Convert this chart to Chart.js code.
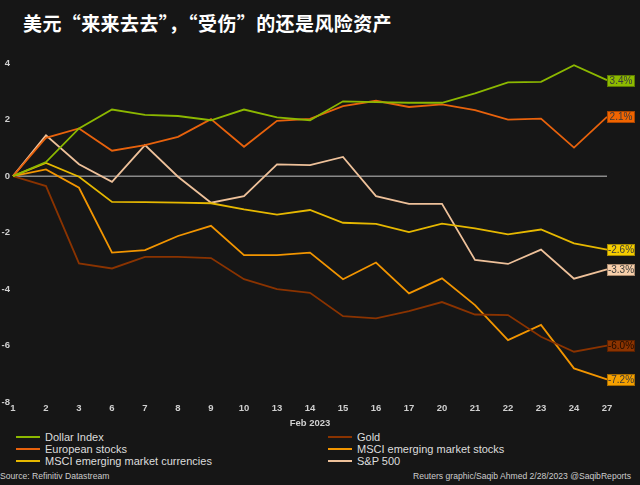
<!DOCTYPE html>
<html>
<head>
<meta charset="utf-8">
<script src="https://cdn.jsdelivr.net/npm/chart.js@4"></script>
<style>
  body { margin: 0; background: #161616; }
  #wrap { position: relative; width: 640px; height: 485px; background: #161616; overflow: hidden; }
  #title { position: absolute; left: 23px; top: 9px; color: #fff; font: bold 19px "Noto Sans CJK SC", sans-serif; letter-spacing: 0.4px; white-space: nowrap; }
  #chart-box { position: absolute; left: 0; top: 0; width: 640px; height: 430px; }
  .leg { position: absolute; height: 12px; display: flex; align-items: center; color: #ddd; font: 11px "Liberation Sans", Arial, sans-serif; white-space: nowrap; }
  .leg span.line { display: inline-block; width: 24px; height: 2px; margin-right: 5px; }
  .src { position: absolute; top: 471px; color: #ccc; font: 8.6px "Liberation Sans", Arial, sans-serif; white-space: nowrap; }
</style>
</head>
<body>
<div id="wrap">
  <div id="title">美元“来来去去”，“受伤”的还是风险资产</div>
  <div id="chart-box"><canvas id="chart" width="640" height="430"></canvas></div>
  <div id="legend"></div>
  <div class="src" style="left:0">Source: Refinitiv Datastream</div>
  <div class="src" style="right:9px">Reuters graphic/Saqib Ahmed 2/28/2023 @SaqibReports</div>
</div>
<script>
/* Donnees : variation en % depuis le 1er fevrier 2023 */
const dates = ['1', '2', '3', '6', '7', '8', '9', '10', '13', '14', '15', '16', '17', '20', '21', '22', '23', '24', '27'];
const seriesNames = ['Dollar Index', 'European stocks', 'MSCI emerging market currencies', 'Gold', 'MSCI emerging market stocks', 'S&P 500'];

const dollarIndex = [0, 0.5, 1.69, 2.36, 2.17, 2.13, 1.98, 2.36, 2.08, 1.98, 2.65, 2.62, 2.6, 2.6, 2.93, 3.32, 3.34, 3.93, 3.4];
const europeanStocks = [0, 1.36, 1.69, 0.9, 1.1, 1.39, 2.02, 1.04, 1.96, 2.03, 2.48, 2.67, 2.45, 2.54, 2.34, 2.0, 2.04, 1.01, 2.1];
const emCurrencies = [0, 0.47, -0.02, -0.91, -0.92, -0.94, -0.96, -1.18, -1.36, -1.2, -1.65, -1.69, -1.98, -1.68, -1.85, -2.06, -1.89, -2.38, -2.6];
const gold = [0, -0.35, -3.09, -3.27, -2.86, -2.86, -2.9, -3.65, -4.0, -4.13, -4.96, -5.04, -4.78, -4.46, -4.9, -4.92, -5.69, -6.22, -6.0];
const emStocks = [0, 0.24, -0.41, -2.71, -2.62, -2.12, -1.76, -2.8, -2.8, -2.71, -3.65, -3.06, -4.15, -3.62, -4.57, -5.81, -5.27, -6.81, -7.2];
const sp500 = [0, 1.45, 0.42, -0.2, 1.1, -0.02, -0.94, -0.71, 0.42, 0.39, 0.68, -0.71, -0.98, -0.98, -2.97, -3.11, -2.6, -3.63, -3.3];

const yTicks = [-8, -6, -4, -2, 0, 2, 4];

const lineColors = ['#8cb800', '#e8620c', '#e6b800', '#8a3300', '#f29500', '#eec19a'];
const boxColors = ['#8dba00', '#f06400', '#f5cc00', '#8b3300', '#f5a000', '#f7cfaa'];
const boxBorders = ['#5c7a00', '#a84400', '#a88c00', '#5a2000', '#a86c00', '#a88a70'];
const boxText = ['#3a3a3a', '#3a3a3a', '#3a3a3a', '#1e0c00', '#3a3a3a', '#3a3a3a'];
const allSeries = [dollarIndex, europeanStocks, emCurrencies, gold, emStocks, sp500];

// Legende en deux colonnes
const legend = document.getElementById('legend');
seriesNames.forEach((name, i) => {
    const col = Math.floor(i / 3);
    const row = i % 3;
    const item = document.createElement('div');
    item.className = 'leg';
    item.style.left = (col === 0 ? 16 : 328) + 'px';
    item.style.top = (431 + row * 12) + 'px';
    item.innerHTML = '<span class="line" style="background:' + lineColors[i] + '"></span>' + name;
    legend.appendChild(item);
});

// Ligne du zero
const zeroLine = {
    id: 'zeroLine',
    beforeDatasetsDraw(chart) {
        const ctx = chart.ctx;
        const y = chart.scales.y.getPixelForValue(0);
        ctx.save();
        ctx.strokeStyle = '#8a8a8a';
        ctx.lineWidth = 1.5;
        ctx.beginPath();
        ctx.moveTo(chart.chartArea.left, y);
        ctx.lineTo(chart.chartArea.right, y);
        ctx.stroke();
        ctx.restore();
    }
};

// Etiquettes de fin de serie
const endLabels = {
    id: 'endLabels',
    afterDatasetsDraw(chart) {
        const ctx = chart.ctx;
        ctx.save();
        ctx.font = '10px "Liberation Sans", Arial, sans-serif';
        ctx.textAlign = 'center';
        ctx.textBaseline = 'middle';
        chart.data.datasets.forEach((ds, i) => {
            const meta = chart.getDatasetMeta(i);
            const pt = meta.data[meta.data.length - 1];
            const val = ds.data[ds.data.length - 1];
            const x = Math.round(pt.x) + 0.5;
            const y = Math.round(pt.y - 5.5) + 0.5;
            ctx.fillStyle = boxColors[i];
            ctx.fillRect(x, y, 27, 11);
            ctx.strokeStyle = boxBorders[i];
            ctx.lineWidth = 1;
            ctx.strokeRect(x, y, 27, 11);
            ctx.fillStyle = boxText[i];
            ctx.fillText(val.toFixed(1) + '%', x + 13.5, y + 6);
        });
        ctx.restore();
    }
};

new Chart(document.getElementById('chart'), {
    type: 'line',
    data: {
        labels: dates,
        datasets: allSeries.map((d, i) => ({
            label: seriesNames[i],
            data: d,
            borderColor: lineColors[i],
            borderWidth: 1.8,
            pointRadius: 0,
            tension: 0,
            fill: false
        }))
    },
    options: {
        responsive: false,
        animation: false,
        layout: { padding: { top: 35, right: 33, left: 0, bottom: 0 } },
        plugins: {
            legend: { display: false },
            tooltip: { enabled: false }
        },
        scales: {
            x: {
                offset: false,
                grid: { display: false, drawTicks: false },
                border: { display: false },
                ticks: {
                    color: '#d0d0d0',
                    font: { family: 'Liberation Sans', size: 9.5, weight: 'bold' },
                    padding: 1,
                    maxRotation: 0,
                    autoSkip: false
                },
                title: {
                    display: true,
                    text: 'Feb 2023',
                    color: '#d0d0d0',
                    font: { family: 'Liberation Sans', size: 9.5, weight: 'bold' },
                    padding: { top: 0, bottom: 1 }
                },
                afterFit(scale) { scale.height = 28; }
            },
            y: {
                min: -8,
                max: 5,
                grid: { display: false, drawTicks: false },
                border: { display: false },
                ticks: {
                    color: '#d0d0d0',
                    font: { family: 'Liberation Sans', size: 9.5, weight: 'bold' },
                    padding: 3
                },
                afterBuildTicks(scale) {
                    scale.ticks = yTicks.map(v => ({ value: v }));
                },
                afterFit(scale) { scale.width = 13; }
            }
        }
    },
    plugins: [zeroLine, endLabels]
});
</script>
</body>
</html>
